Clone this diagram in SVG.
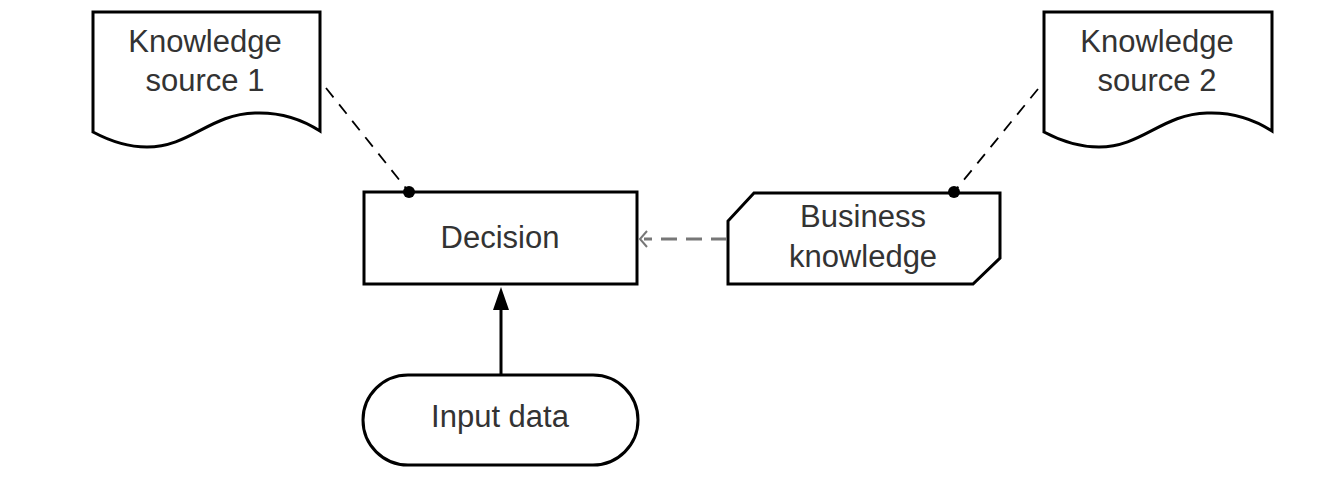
<svg xmlns="http://www.w3.org/2000/svg" width="1343" height="485" viewBox="0 0 1343 485">
<style>
.shape{fill:#fff;stroke:#000;stroke-width:3;stroke-linejoin:miter}
.lbl{font-family:'Liberation Sans',Arial,sans-serif;font-size:31px;fill:#333;text-anchor:middle}
.dash{fill:none;stroke:#000;stroke-width:1.8;stroke-dasharray:12,9}
.gdash{fill:none;stroke:#777;stroke-width:3;stroke-dasharray:16,9}
</style>
<rect width="1343" height="485" fill="#fff"/>
<g id="ks1">
<path class="shape" d="M93,12 L320,12 L320,131 C300,118 280,112 255,113 C210,114 190,147 147,147 C125,147 108,140 93,132 Z"/>
<text class="lbl" x="205" y="52">Knowledge</text>
<text class="lbl" x="205" y="91">source 1</text>
</g>
<g id="ks2">
<path class="shape" d="M1044,12 L1272,12 L1272,131 C1252,118 1232,112 1207,113 C1162,114 1142,147 1099,147 C1077,147 1059,140 1044,132 Z"/>
<text class="lbl" x="1157" y="52">Knowledge</text>
<text class="lbl" x="1157" y="91">source 2</text>
</g>
<g id="decision">
<rect class="shape" x="364" y="192" width="273" height="92"/>
<text class="lbl" x="500" y="248">Decision</text>
</g>
<g id="business">
<path class="shape" d="M754,193 L1000,193 L1000,258 L973,284 L728,284 L728,221 Z"/>
<text class="lbl" x="863" y="227">Business</text>
<text class="lbl" x="863" y="267">knowledge</text>
</g>
<g id="input">
<rect class="shape" x="363" y="375" width="275" height="90" rx="45" ry="45"/>
<text class="lbl" x="500" y="427">Input data</text>
</g>
<g id="connectors">
<line class="dash" x1="326" y1="88" x2="409" y2="192"/>
<circle cx="409" cy="192" r="6" fill="#000"/>
<line class="dash" x1="1038" y1="89" x2="954" y2="192"/>
<circle cx="954" cy="192" r="6" fill="#000"/>
<line class="gdash" x1="727" y1="239" x2="644" y2="239"/>
<path d="M647,231 L640,239 L647,247" fill="none" stroke="#777" stroke-width="2"/>
<line x1="501" y1="375" x2="501" y2="300" stroke="#000" stroke-width="3"/>
<path d="M501,287 L509,310 L493,310 Z" fill="#000"/>
</g>
</svg>
